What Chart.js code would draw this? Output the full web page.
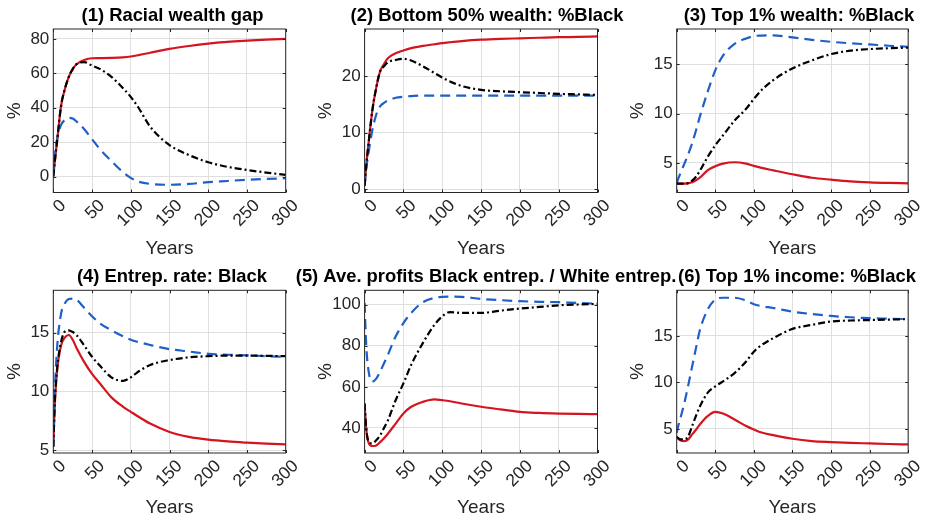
<!DOCTYPE html>
<html>
<head>
<meta charset="utf-8">
<script src="https://cdn.jsdelivr.net/npm/chart.js@4.4.1/dist/chart.umd.min.js"></script>
<style>
  body { margin: 0; background: #fff; }
  #fig { position: relative; width: 926px; height: 519px; }
  #fig canvas { position: absolute; left: 0; }
</style>
</head>
<body>
<div id="fig">
  <canvas id="p1" width="926" height="260" style="top:0"></canvas>
  <canvas id="p2" width="926" height="260" style="top:0"></canvas>
  <canvas id="p3" width="926" height="260" style="top:0"></canvas>
  <canvas id="p4" width="926" height="259" style="top:260px"></canvas>
  <canvas id="p5" width="926" height="259" style="top:260px"></canvas>
  <canvas id="p6" width="926" height="259" style="top:260px"></canvas>
</div>
<script>
const years = [0, 2, 5, 10, 15, 20, 25, 30, 40, 50, 60, 75, 90, 100, 110, 125, 150, 175, 200, 225, 250, 275, 300];
const xTicks = [0, 50, 100, 150, 200, 250, 300];

const titles = [
  "(1) Racial wealth gap",
  "(2) Bottom 50% wealth: %Black",
  "(3) Top 1% wealth: %Black",
  "(4) Entrep. rate: Black",
  "(5) Ave. profits Black entrep. / White entrep.",
  "(6) Top 1% income: %Black"
];

// (1) racial wealth gap
const gapRed   = [0, 9, 21, 41, 51, 58, 62.5, 65.3, 67.8, 68.8, 68.9, 69.0, 69.3, 69.8, 70.6, 72.0, 74.2, 75.9, 77.3, 78.3, 79.0, 79.6, 80.0];
const gapBlack = [0, 9, 21, 41, 51, 58, 62.5, 65.3, 66.5, 64.5, 62.6, 58, 51.4, 46.3, 40, 29, 18.3, 12.5, 8.3, 5.6, 3.8, 2.3, 1.0];
const gapBlue  = [0, 12, 22, 30, 33, 34.1, 33.8, 32, 27.5, 21.7, 16, 9, 2.5, -0.8, -3, -4.3, -4.8, -4.3, -3.3, -2.6, -1.9, -1.4, -1.0];
const gapTicks = [0, 20, 40, 60, 80];

// (2) bottom 50% wealth share held by Black households
const bottomRed   = [0.6, 4, 8, 14, 18, 20.9, 22.2, 23.2, 24.1, 24.6, 25.0, 25.4, 25.7, 25.9, 26.05, 26.25, 26.5, 26.65, 26.75, 26.85, 26.95, 27.0, 27.1];
const bottomBlack = [0.6, 4, 8, 14, 18, 20.9, 21.8, 22.5, 22.9, 23.1, 22.8, 21.8, 20.6, 19.8, 19.1, 18.3, 17.6, 17.35, 17.2, 17.05, 16.9, 16.8, 16.7];
const bottomBlue  = [0.6, 3.5, 6.4, 10.5, 13.2, 14.7, 15.3, 15.7, 16.2, 16.4, 16.5, 16.6, 16.6, 16.6, 16.6, 16.6, 16.6, 16.6, 16.6, 16.6, 16.6, 16.6, 16.6];
const bottomTicks = [0, 10, 20];

// (3) top 1% wealth share
const topWRed   = [2.9, 2.9, 2.9, 2.9, 2.95, 3.05, 3.24, 3.5, 4.25, 4.66, 4.93, 5.07, 4.93, 4.7, 4.5, 4.25, 3.85, 3.5, 3.3, 3.13, 3.03, 2.97, 2.93];
const topWBlack = [2.9, 2.9, 2.9, 2.9, 2.95, 3.2, 3.6, 4.2, 5.6, 6.8, 7.8, 9.3, 10.5, 11.5, 12.4, 13.4, 14.6, 15.4, 16.05, 16.4, 16.56, 16.65, 16.7];
const topWBlue  = [2.97, 3.4, 4.0, 4.93, 5.9, 7.0, 8.3, 9.7, 12.2, 14.4, 15.9, 17.1, 17.64, 17.88, 17.93, 17.95, 17.75, 17.5, 17.3, 17.15, 17.03, 16.9, 16.8];
const topWTicks = [5, 10, 15];

// (4) entrepreneurship rate
const entRed   = [5.3, 9, 11.8, 13.9, 14.6, 14.8, 14.4, 13.7, 12.5, 11.5, 10.7, 9.5, 8.7, 8.27, 7.85, 7.27, 6.56, 6.14, 5.9, 5.75, 5.65, 5.57, 5.5];
const entBlack = [5.3, 9.2, 12, 14.2, 15.1, 15.2, 15.05, 14.8, 13.9, 12.95, 12.2, 11.2, 10.9, 11.2, 11.7, 12.25, 12.67, 12.9, 13.0, 13.05, 13.05, 13.03, 13.0];
const entBlue  = [5.3, 10, 13.8, 16.6, 17.5, 17.85, 17.9, 17.8, 17.1, 16.4, 15.8, 15.2, 14.7, 14.4, 14.2, 13.95, 13.6, 13.4, 13.2, 13.12, 13.07, 13.0, 12.95];
const entTicks = [5, 10, 15];

// (5) average profits ratio
const profRed   = [51.9, 40, 33, 31.2, 31.5, 33.1, 35, 37.2, 42.1, 47, 50.3, 52.7, 53.9, 53.5, 53, 51.9, 50.3, 49, 47.8, 47.3, 47, 46.8, 46.7];
const profBlack = [51.9, 40, 33.5, 32.5, 34, 36.4, 40, 43.7, 53.5, 61.7, 70.7, 81.3, 90.2, 94.3, 96.4, 96, 96, 97.1, 98.1, 98.9, 99.7, 100.1, 100.4];
const profBlue  = [100.8, 81, 68, 62.5, 64, 67.4, 71.5, 75.6, 84.5, 91, 96, 101.2, 103.3, 103.8, 103.9, 103.8, 102.8, 102.2, 101.7, 101.4, 101.2, 100.8, 100.5];
const profTicks = [40, 60, 80, 100];

// (6) top 1% income share
const topIRed   = [4.14, 3.95, 3.75, 3.68, 3.86, 4.4, 4.9, 5.46, 6.36, 6.82, 6.64, 6.0, 5.3, 4.93, 4.6, 4.32, 3.93, 3.68, 3.57, 3.49, 3.43, 3.37, 3.32];
const topIBlack = [4.14, 4.0, 3.86, 3.86, 4.2, 5.3, 6.4, 7.4, 8.86, 9.57, 10.1, 11.0, 12.25, 13.3, 14.0, 14.75, 15.75, 16.18, 16.54, 16.65, 16.7, 16.75, 16.8];
const topIBlue  = [4.57, 5.3, 6.2, 7.8, 9.7, 11.7, 13.7, 15.6, 17.8, 18.9, 19.1, 19.1, 18.8, 18.4, 18.2, 18.0, 17.6, 17.35, 17.14, 17.0, 16.9, 16.85, 16.8];
const topITicks = [5, 10, 15];

const RED = '#d4141e', BLUE = '#1f5fc8', BLACK = '#000000';
const FONT = '"Liberation Sans", Arial, Helvetica, sans-serif';
const INK = '#262626';

// plot boxes in page pixels
const cols = [{ L: 53.3, R: 285.7 }, { L: 364.6, R: 597.5 }, { L: 676.7, R: 908.3 }];
const rows = [{ top: 0, h: 260, T: 29, B: 192.5, titleY: 20.7 }, { top: 260, h: 259, T: 290.3, B: 453, titleY: 21.7 }];
const Y_AXIS_W = 50;

const panels = [
  { id: 'p1', row: 0, col: 0, titleX: 172.5, red: gapRed, black: gapBlack, blue: gapBlue, yMin: -9.3, yMax: 85.8, yTicks: gapTicks },
  { id: 'p2', row: 0, col: 1, titleX: 487, red: bottomRed, black: bottomBlack, blue: bottomBlue, yMin: -0.6, yMax: 28.4, yTicks: bottomTicks },
  { id: 'p3', row: 0, col: 2, titleX: 799, red: topWRed, black: topWBlack, blue: topWBlue, yMin: 2.0, yMax: 18.6, yTicks: topWTicks },
  { id: 'p4', row: 1, col: 0, titleX: 172, red: entRed, black: entBlack, blue: entBlue, yMin: 4.77, yMax: 18.6, yTicks: entTicks },
  { id: 'p5', row: 1, col: 1, titleX: 486, red: profRed, black: profBlack, blue: profBlue, yMin: 27.8, yMax: 107, yTicks: profTicks },
  { id: 'p6', row: 1, col: 2, titleX: 797, red: topIRed, black: topIBlack, blue: topIBlue, yMin: 2.4, yMax: 19.9, yTicks: topITicks }
];

function series(values, color, dash) {
  return {
    data: values.map((v, i) => ({ x: years[i], y: v })),
    borderColor: color,
    borderWidth: 2.2,
    borderDash: dash,
    pointRadius: 0,
    fill: false,
    cubicInterpolationMode: 'monotone'
  };
}

// bold title drawn without width limit so long titles may spill over
const titlePlugin = {
  id: 'panelTitle',
  afterDraw(chart, args, opts) {
    const ctx = chart.ctx;
    ctx.save();
    ctx.font = 'bold 18.4px ' + FONT;
    ctx.fillStyle = '#000';
    ctx.textAlign = 'center';
    ctx.textBaseline = 'alphabetic';
    ctx.fillText(opts.text, opts.x, opts.y);
    ctx.restore();
  }
};

// axes box with inward tick marks on all four sides
const framePlugin = {
  id: 'frame',
  afterDatasetsDraw(chart) {
    const { ctx, chartArea: a, scales } = chart;
    ctx.save();
    ctx.strokeStyle = INK;
    ctx.lineWidth = 1;
    ctx.beginPath();
    scales.x.ticks.forEach(t => {
      const px = Math.round(scales.x.getPixelForValue(t.value)) + 0.5;
      ctx.moveTo(px, a.bottom); ctx.lineTo(px, a.bottom - 3);
      ctx.moveTo(px, a.top); ctx.lineTo(px, a.top + 3);
    });
    scales.y.ticks.forEach(t => {
      const py = Math.round(scales.y.getPixelForValue(t.value)) + 0.5;
      ctx.moveTo(a.left, py); ctx.lineTo(a.left + 3, py);
      ctx.moveTo(a.right, py); ctx.lineTo(a.right - 3, py);
    });
    ctx.stroke();
    ctx.strokeRect(a.left, a.top, a.right - a.left, a.bottom - a.top);
    ctx.restore();
  }
};

panels.forEach((p, k) => {
  const c = cols[p.col], r = rows[p.row];
  const xAxisH = r.top + r.h - r.B;
  new Chart(document.getElementById(p.id), {
    type: 'line',
    data: {
      datasets: [
        series(p.black, BLACK, [7, 3, 2, 3]),
        series(p.blue, BLUE, [10, 6]),
        series(p.red, RED, [])
      ]
    },
    options: {
      responsive: false,
      animation: false,
      layout: {
        padding: { left: c.L - Y_AXIS_W, right: 926 - c.R, top: r.T - r.top, bottom: 0 }
      },
      plugins: {
        legend: { display: false },
        tooltip: { enabled: false },
        panelTitle: { text: titles[k], x: p.titleX, y: r.titleY }
      },
      scales: {
        x: {
          type: 'linear',
          min: 0,
          max: 300,
          afterBuildTicks: s => { s.ticks = xTicks.map(v => ({ value: v })); },
          afterFit: s => { s.height = xAxisH; },
          grid: { color: '#dfdfdf', drawTicks: false },
          border: { display: false },
          ticks: {
            autoSkip: false,
            minRotation: 45,
            maxRotation: 45,
            padding: 3,
            labelOffset: 10,
            color: INK,
            font: { family: FONT, size: 17.5 }
          },
          title: {
            display: true,
            text: 'Years',
            color: INK,
            padding: 0,
            font: { family: FONT, size: 19 }
          }
        },
        y: {
          min: p.yMin,
          max: p.yMax,
          afterBuildTicks: s => { s.ticks = p.yTicks.map(v => ({ value: v })); },
          afterFit: s => { s.width = Y_AXIS_W; },
          grid: { color: '#dfdfdf', drawTicks: false },
          border: { display: false },
          ticks: {
            padding: 4,
            color: INK,
            font: { family: FONT, size: 17 }
          },
          title: {
            display: true,
            text: '%',
            color: INK,
            padding: 0,
            font: { family: FONT, size: 19 }
          }
        }
      }
    },
    plugins: [titlePlugin, framePlugin]
  });
});
</script>
</body>
</html>
